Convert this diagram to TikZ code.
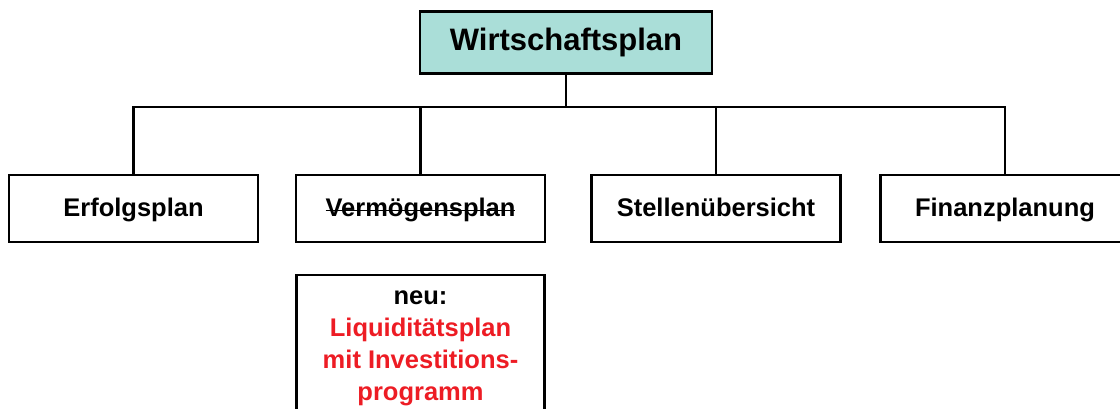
\documentclass[tikz,border=0pt]{standalone}
\usepackage{fontspec}
\setmainfont{Liberation Sans}
\usetikzlibrary{positioning}
\definecolor{headfill}{RGB}{170,222,216}
\definecolor{newred}{RGB}{237,28,36}
\newcommand{\striketext}[1]{\setbox0\hbox{#1}\rlap{\rule[0.22em]{\wd0}{1.6pt}}\box0}

\begin{document}
\begin{tikzpicture}[x=1pt, y=-1pt, line width=2.2pt,
	box/.style={draw, rectangle, minimum width=249pt, minimum height=67pt, inner sep=0pt, text height=20.5pt, text depth=3.5pt, font=\fontsize{25.5}{30}\selectfont\bfseries},
	head/.style={box, fill=headfill, minimum width=292pt, minimum height=62pt, text height=22.5pt, text depth=6.5pt, font=\fontsize{31}{36}\selectfont\bfseries},
	newbox/.style={draw, rectangle, minimum width=248pt, minimum height=146pt, inner sep=0pt, align=center, font=\fontsize{25.5}{32}\selectfont\bfseries}]
	\useasboundingbox (0,0) rectangle (1120,409);
	\clip (0,0) rectangle (1120,409);

	\node[head] (plan) at (566,42.5) {Wirtschaftsplan};
	\coordinate (bus) at (566,107);

	\node[box] (erfolg) at (133.5,208.5) {Erfolgsplan};
	\node[box] (verm) at (420.5,208.5) {\striketext{Vermögensplan}};
	\node[box] (stellen) at (716,208.5) {Stellenübersicht};
	\node[box] (finanz) at (1005,208.5) {Finanzplanung};

	\node[newbox, below=31pt of verm] (neu) {neu:\\ \textcolor{newred}{Liquiditätsplan}\\ \textcolor{newred}{mit Investitions-}\\ \textcolor{newred}{programm}};

	% connectors
	\draw (plan.south) -- (bus);
	\draw (erfolg.north) |- (bus) -| (finanz.north);
	\draw (verm.north) -- (verm.north |- bus);
	\draw (stellen.north) -- (stellen.north |- bus);
\end{tikzpicture}
\end{document}
